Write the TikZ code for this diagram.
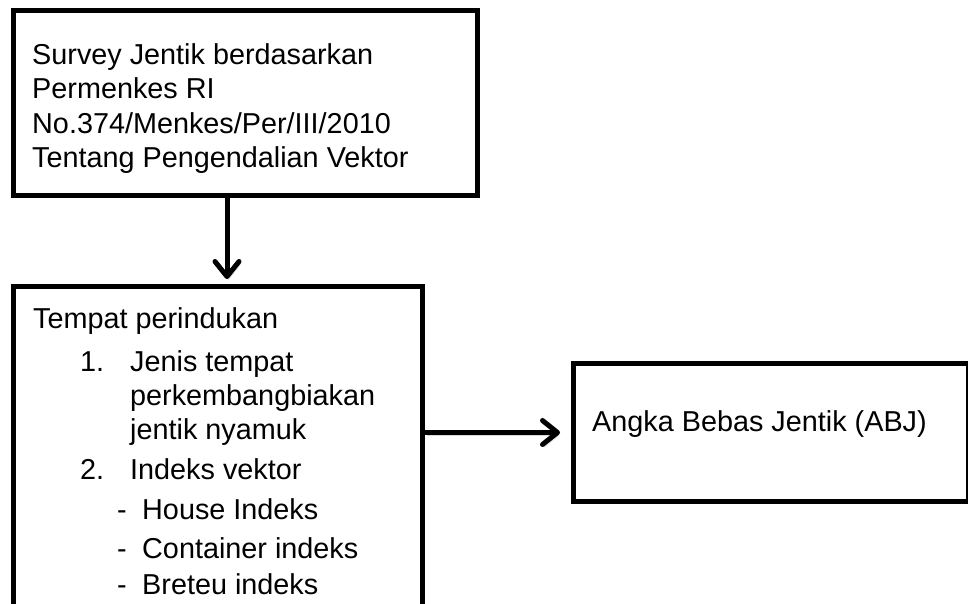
\documentclass[tikz,border=0pt]{standalone}
\usepackage{fontspec}
\setmainfont{Liberation Sans}
\usetikzlibrary{arrows.meta}
\begin{document}
\begin{tikzpicture}[x=1pt,y=-1pt,
  box/.style={draw=black, line width=5pt, rectangle, inner sep=0pt, anchor=north west},
  txt/.style={anchor=base west, inner sep=0pt, font=\fontsize{28.8}{34}\selectfont},
  conn/.style={line width=5pt, -{Straight Barb[length=15pt, width=24pt, line width=5pt, line cap=round, line join=round]},
    preaction={draw=black!45, opacity=0.35, transform canvas={shift={(1.5pt,-3pt)}}}}]
\useasboundingbox (0,0) rectangle (968,603);
\fill[white] (0,0) rectangle (968,603);
% boxes
\node[box, minimum width=464pt, minimum height=185pt] (b1) at (11,8) {};
\node[box, minimum width=409pt, minimum height=350pt] (b2) at (11,284) {};
\node[box, minimum width=395pt, minimum height=138pt] (b3) at (571,361) {};
% box 1 text
\node[txt] (t1) at (32,64) {Survey Jentik berdasarkan};
\node[txt] (t2) at (32,98) {Permenkes RI};
\node[txt] (t3) at (32,133) {No.374/Menkes/Per/III/2010};
\node[txt] (t4) at (32,167) {Tentang Pengendalian Vektor};
% box 2 text
\node[txt] (u1) at (33,328) {Tempat perindukan};
\node[txt] (u2n) at (80,371) {1.};
\node[txt] (u2) at (130,371) {Jenis tempat};
\node[txt] (u3) at (130,405) {perkembangbiakan};
\node[txt] (u4) at (130,439) {jentik nyamuk};
\node[txt] (u5n) at (80,479) {2.};
\node[txt] (u5) at (130,479) {Indeks vektor};
\node[txt] (u6d) at (117,519) {-};
\node[txt] (u6) at (142,519) {House Indeks};
\node[txt] (u7d) at (117,558) {-};
\node[txt] (u7) at (142,558) {Container indeks};
\node[txt] (u8d) at (117,594) {-};
\node[txt] (u8) at (142,594) {Breteu indeks};
% box 3 text
\node[txt] (v1) at (592,431) {Angka Bebas Jentik (ABJ)};
% connectors
\draw[conn, shorten >=5pt] ([xshift=216pt]b1.south west) -- ([xshift=216pt]b1.south west |- b2.north);
\draw[conn, shorten >=11pt] (b2.east |- b3.west) -- (b3.west);
\end{tikzpicture}
\end{document}
